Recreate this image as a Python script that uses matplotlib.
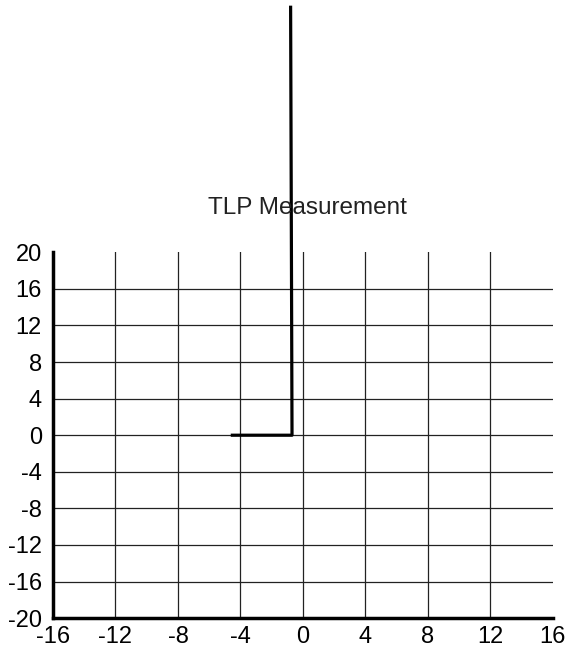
import matplotlib.pyplot as plt

voltage = [-4.52, -0.70, -0.79]
current = [0.0, 0.0, 46.8]

x_ticks = [-16, -12, -8, -4, 0, 4, 8, 12, 16]
y_ticks = [-20, -16, -12, -8, -4, 0, 4, 8, 12, 16, 20]

plt.rcParams['font.family'] = ['Liberation Sans', 'DejaVu Sans']
plt.rcParams['axes.unicode_minus'] = False

fig = plt.figure(figsize=(5.7, 6.52), dpi=100)
ax = fig.add_axes([0.093, 0.052, 0.877, 0.561])

ax.set_xlim(-16, 16)
ax.set_ylim(-20, 20)
ax.set_xticks(x_ticks)
ax.set_yticks(y_ticks)
ax.tick_params(length=0, labelsize=17)
ax.tick_params(axis='y', pad=8)
ax.tick_params(axis='x', pad=6)

# grid lines on inner ticks only
for x in x_ticks[1:-1]:
    ax.axvline(x, color='#222222', lw=0.9, zorder=1)
for y in y_ticks[1:-1]:
    ax.axhline(y, color='#222222', lw=0.9, zorder=1)

for s in ['top', 'right']:
    ax.spines[s].set_visible(False)
for s in ['left', 'bottom']:
    ax.spines[s].set_linewidth(2.5)

ax.plot(voltage, current, color='black', lw=2.3, clip_on=False, zorder=3)

fig.text(0.539, 0.681, 'TLP Measurement', ha='center', va='center', fontsize=17.5,
         color='#222222')

fig.savefig('out.png', dpi=100)
